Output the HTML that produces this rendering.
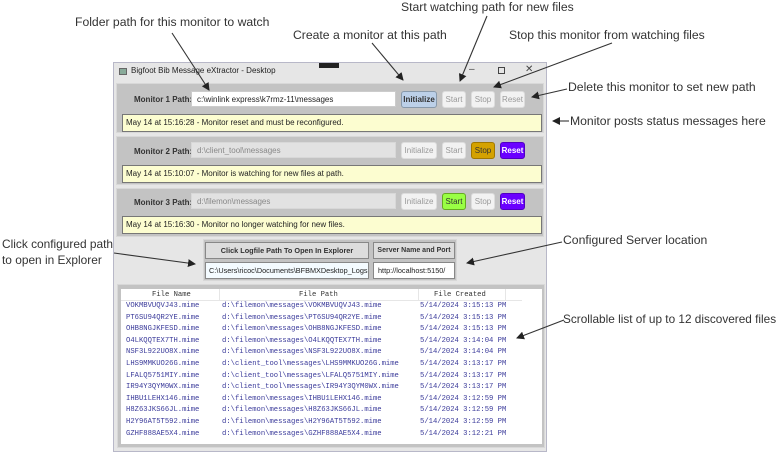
<!DOCTYPE html>
<html><head><meta charset="utf-8"><style>
*{margin:0;padding:0;box-sizing:border-box}
body{width:777px;height:454px;background:#fff;position:relative;overflow:hidden;font-family:"Liberation Sans",sans-serif}
.a{position:absolute;font-size:12.2px;color:#333;white-space:nowrap}
.b{position:absolute}
.win{left:113px;top:62px;width:434px;height:390px;background:#e6e6e6;border:1px solid #b8b8c8}
.panel{position:absolute;background:#c3c3c3;border:1px solid #d8d8d8}
.lbl{position:absolute;font-size:8px;font-weight:bold;color:#333}
.tb{position:absolute;height:16px;font-size:8px;line-height:15px;padding-left:5px;border:1px solid #ccc;background:#fff;color:#222;overflow:hidden;white-space:nowrap}
.tb.dis{background:#e2e2e2;color:#888;border-color:#d8d8d8}
.btn{position:absolute;height:17px;font-size:8px;line-height:16px;text-align:center;border-radius:3px;border:1px solid #ddd;background:#f2f2f2;color:#999;white-space:nowrap;overflow:hidden}
.st{position:absolute;left:5px;width:420px;height:18px;background:#fcfdd0;border:1px solid #777;font-size:8px;line-height:16px;padding-left:3px;color:#222}
.row{position:absolute;font-family:"Liberation Mono",monospace;font-size:7.2px;color:#3a3a9a;white-space:nowrap}
</style></head><body>
<div class="a" style="left:75px;top:15px">Folder path for this monitor to watch</div>
<div class="a" style="left:293px;top:28px">Create a monitor at this path</div>
<div class="a" style="left:401px;top:0px">Start watching path for new files</div>
<div class="a" style="left:509px;top:28px">Stop this monitor from watching files</div>
<div class="a" style="left:568px;top:80px">Delete this monitor to set new path</div>
<div class="a" style="left:570px;top:114px">Monitor posts status messages here</div>
<div class="a" style="left:2px;top:237px;font-size:11.9px">Click configured path</div>
<div class="a" style="left:2px;top:253px;font-size:11.9px">to open in Explorer</div>
<div class="a" style="left:563px;top:233px">Configured Server location</div>
<div class="a" style="left:563px;top:312px;font-size:11.8px">Scrollable list of up to 12 discovered files</div>

<div class="b win">
 <div class="b" style="left:5px;top:5px;width:8px;height:7px;background:#8a9;border:1px solid #666"></div>
 <div class="b" style="left:17px;top:3px;font-size:8px;color:#222">Bigfoot Bib Message eXtractor - Desktop</div>
 <div class="b" style="left:205px;top:0;width:20px;height:5px;background:#222"></div>
 <div class="b" style="left:355px;top:1px;font-size:10px;color:#444">–</div>
 <div class="b" style="left:384px;top:4px;width:7px;height:7px;border:1px solid #444"></div>
 <div class="b" style="left:411px;top:1px;font-size:10px;color:#444">✕</div>

 <div class="panel" style="left:2px;top:20px;width:428px;height:50px">
  <div class="lbl" style="left:17px;top:11px">Monitor 1 Path:</div>
  <div class="tb" style="left:74px;top:7px;width:205px">c:\winlink express\k7rmz-11\messages</div>
  <div class="btn" style="left:284px;top:7px;width:36px;background:#bcd0e8;border-color:#8899aa;color:#333;font-weight:bold">Initialize</div>
  <div class="btn" style="left:325px;top:7px;width:24px">Start</div>
  <div class="btn" style="left:354px;top:7px;width:24px">Stop</div>
  <div class="btn" style="left:383px;top:7px;width:25px">Reset</div>
  <div class="st" style="top:30px">May 14 at 15:16:28 - Monitor reset and must be reconfigured.</div>
 </div>
 <div class="panel" style="left:2px;top:73px;width:428px;height:49px">
  <div class="lbl" style="left:17px;top:10px">Monitor 2 Path:</div>
  <div class="tb dis" style="left:74px;top:5px;width:205px">d:\client_tool\messages</div>
  <div class="btn" style="left:284px;top:5px;width:36px">Initialize</div>
  <div class="btn" style="left:325px;top:5px;width:24px">Start</div>
  <div class="btn" style="left:354px;top:5px;width:24px;background:#d4a200;border-color:#a07800;color:#333">Stop</div>
  <div class="btn" style="left:383px;top:5px;width:25px;background:#6a00ff;border-color:#5000c0;color:#fff;font-weight:bold">Reset</div>
  <div class="st" style="top:28px">May 14 at 15:10:07 - Monitor is watching for new files at path.</div>
 </div>
 <div class="panel" style="left:2px;top:125px;width:428px;height:49px">
  <div class="lbl" style="left:17px;top:9px">Monitor 3 Path:</div>
  <div class="tb dis" style="left:74px;top:4px;width:205px">d:\filemon\messages</div>
  <div class="btn" style="left:284px;top:4px;width:36px">Initialize</div>
  <div class="btn" style="left:325px;top:4px;width:24px;background:#99ff44;border-color:#66aa22;color:#333">Start</div>
  <div class="btn" style="left:354px;top:4px;width:24px">Stop</div>
  <div class="btn" style="left:383px;top:4px;width:25px;background:#6a00ff;border-color:#5000c0;color:#fff;font-weight:bold">Reset</div>
  <div class="st" style="top:27px">May 14 at 15:16:30 - Monitor no longer watching for new files.</div>
 </div>

 <div class="panel" style="left:89px;top:176px;width:254px;height:42px">
  <div class="btn" style="left:1px;top:2px;width:164px;background:#ddd;border:1px solid #888;color:#333;font-weight:bold;border-radius:0;font-size:7.3px">Click Logfile Path To Open In Explorer</div>
  <div class="btn" style="left:169px;top:2px;width:82px;background:#ddd;border:1px solid #888;color:#333;font-weight:bold;border-radius:0;font-size:7px">Server Name and Port</div>
  <div class="tb" style="left:1px;top:22px;width:164px;height:17px;line-height:16px;background:#f4fbff;border-color:#888;font-size:7.3px;padding-left:3px">C:\Users\ricoc\Documents\BFBMXDesktop_Logs</div>
  <div class="tb" style="left:169px;top:22px;width:82px;height:17px;line-height:16px;border-color:#888;font-size:7.3px;padding-left:4px">http://localhost:5150/</div>
 </div>

 <div class="panel" style="left:3px;top:221px;width:428px;height:164px">
  <div class="b" style="left:3px;top:4px;width:421px;height:155px;background:#fff">
   <div class="b" style="left:0;top:0;width:401px;height:12px;border-bottom:1px solid #e6e6e6"></div>
   <div class="b" style="left:98px;top:0;width:1px;height:12px;background:#e6e6e6"></div>
   <div class="b" style="left:297px;top:0;width:1px;height:12px;background:#e6e6e6"></div>
   <div class="b" style="left:384px;top:0;width:1px;height:12px;background:#e6e6e6"></div>
   <div class="row" style="left:31px;top:2px;color:#333">File Name</div>
   <div class="row" style="left:178px;top:2px;color:#333">File Path</div>
   <div class="row" style="left:313px;top:2px;color:#333">File Created</div>
  </div>
 </div>
</div>
<div id="rows"></div>
<script>
var d=[["VOKMBVUQVJ43","filemon","3:15:13"],["PT6SU94QR2YE","filemon","3:15:13"],["OHB8NGJKFESD","filemon","3:15:13"],["O4LKQQTEX7TH","filemon","3:14:04"],["NSF3L922UO8X","filemon","3:14:04"],["LHS9MMKUO26G","client_tool","3:13:17"],["LFALQ5751MIY","client_tool","3:13:17"],["IR94Y3QYM0WX","client_tool","3:13:17"],["IHBU1LEHX146","filemon","3:12:59"],["H8Z63JKS66JL","filemon","3:12:59"],["H2Y96AT5T592","filemon","3:12:59"],["GZHF888AE5X4","filemon","3:12:21"]];
var h="";d.forEach(function(r,i){var y=302+i*11.6;
h+='<div class="row" style="left:126px;top:'+y+'px">'+r[0]+'.mime</div>';
h+='<div class="row" style="left:222px;top:'+y+'px">d:\\'+r[1]+'\\messages\\'+r[0]+'.mime</div>';
h+='<div class="row" style="left:420px;top:'+y+'px">5/14/2024 '+r[2]+' PM</div>';});
document.getElementById("rows").innerHTML=h;
</script>
<svg width="777" height="454" style="position:absolute;left:0;top:0">
<defs><marker id="m" markerWidth="8" markerHeight="8" refX="7" refY="4" orient="auto" markerUnits="userSpaceOnUse"><path d="M0,0 L8,4 L0,8 z" fill="#222"/></marker></defs>
<g stroke="#333" stroke-width="1.1" fill="none" marker-end="url(#m)">
<line x1="172" y1="33" x2="209" y2="90"/>
<line x1="372" y1="43" x2="403" y2="80"/>
<line x1="487" y1="16" x2="460" y2="81"/>
<line x1="612" y1="43" x2="494" y2="87"/>
<line x1="567" y1="89" x2="532" y2="97"/>
<line x1="569" y1="121" x2="553" y2="121"/>
<line x1="114" y1="253" x2="195" y2="264"/>
<line x1="562" y1="242" x2="467" y2="263"/>
<line x1="564" y1="320" x2="517" y2="338"/>
</g></svg>
</body></html>
